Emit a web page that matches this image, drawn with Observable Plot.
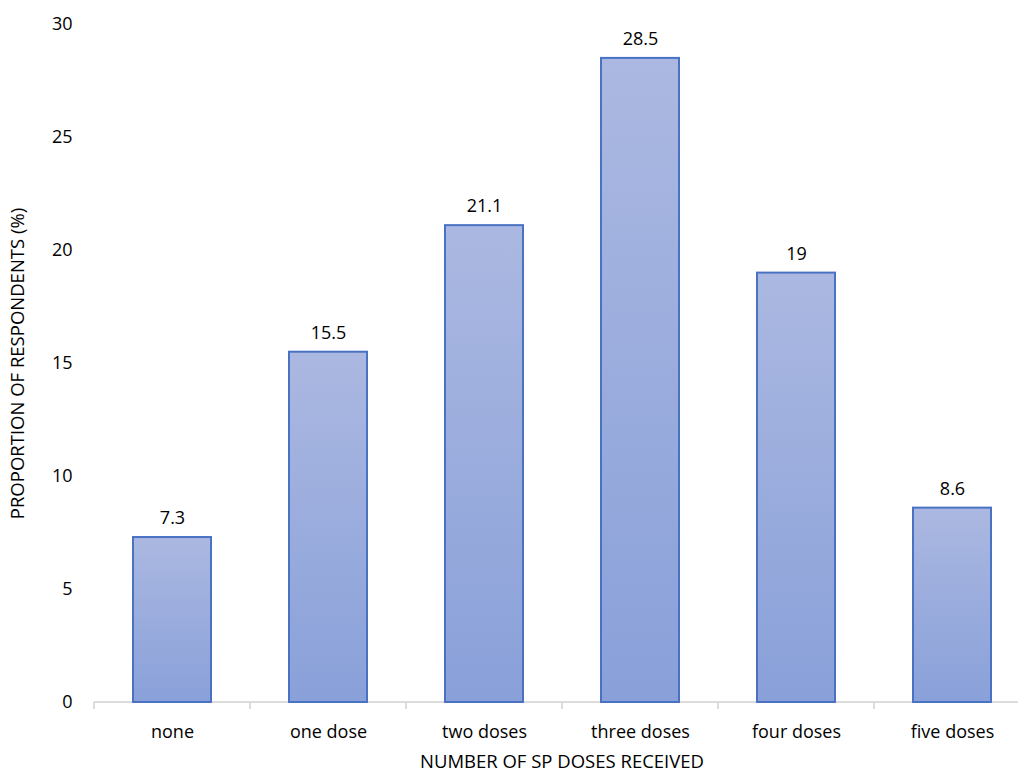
<!DOCTYPE html>
<html>
<head>
<meta charset="utf-8">
<script src="https://cdn.jsdelivr.net/npm/d3@7"></script>
<script src="https://cdn.jsdelivr.net/npm/@observablehq/plot@0.6"></script>
<style>
  html, body { margin: 0; padding: 0; background: #fff; overflow: hidden; }
  svg { font-family: "Open Sans", "Noto Sans", sans-serif; }
</style>
</head>
<body>
<div id="chart"></div>
<script>
const categories = ["none", "one dose", "two doses", "three doses", "four doses", "five doses"];
const values = [7.3, 15.5, 21.1, 28.5, 19, 8.6];
const valueLabels = ["7.3", "15.5", "21.1", "28.5", "19", "8.6"];
const yTicks = [0, 5, 10, 15, 20, 25, 30];

const data = categories.map((c, i) => ({cat: c, value: values[i], label: valueLabels[i]}));

const defs = () => {
  const svg = d3.create("svg:defs");
  const g = svg.append("linearGradient").attr("id", "barGrad").attr("x1", 0).attr("y1", 0).attr("x2", 0).attr("y2", 1);
  g.append("stop").attr("offset", "0%").attr("stop-color", "#abb8e1");
  g.append("stop").attr("offset", "100%").attr("stop-color", "#89a0d9");
  return svg.node();
};

const boundaryTicks = (index, scales, values, dims) => {
  const x = scales.x;
  const step = x.step();
  const bw = x.bandwidth();
  const off = (step - bw) / 2;
  const y0 = scales.y(0);
  const g = d3.create("svg:g").attr("stroke", "#d0d0d0").attr("stroke-width", 1.5);
  const xs = categories.map(c => x(c) - off);
  xs.push(x(categories[categories.length - 1]) + bw + off);
  for (const px of xs) {
    if (px <= dims.width) g.append("line").attr("x1", px).attr("x2", px).attr("y1", y0).attr("y2", y0 + 7);
  }
  g.append("line").attr("x1", xs[0]).attr("x2", Math.min(xs[xs.length - 1], dims.width - 1)).attr("y1", y0).attr("y2", y0);
  return g.node();
};

const chart = Plot.plot({
  width: 1019,
  height: 774,
  marginTop: 24,
  marginBottom: 72,
  marginLeft: 92,
  marginRight: -12,
  style: {fontSize: "19px", fontFamily: "'Open Sans', sans-serif", color: "#000", overflow: "hidden"},
  x: {domain: categories, paddingInner: 0.5, paddingOuter: 0.25, label: null},
  y: {domain: [0, 30], label: null},
  marks: [
    defs,
    boundaryTicks,
    Plot.barY(data, {x: "cat", y: "value", fill: "url(#barGrad)", stroke: "#4a72c2", strokeWidth: 2}),
    Plot.text(data, {x: "cat", y: "value", text: "label", dy: -19, fontSize: 18, fill: "#000"}),
    Plot.axisY(yTicks, {tickSize: 0, tickPadding: 20, fontSize: 18, fill: "#000", label: null}),
    Plot.axisX({tickSize: 0, tickPadding: 23, fontSize: 18, fill: "#000", label: null}),
    Plot.text(["PROPORTION OF RESPONDENTS (%)"], {frameAnchor: "left", textAnchor: "middle", dx: -74, rotate: -90, fontSize: 18.5, fill: "#000"}),
    Plot.text(["NUMBER OF SP DOSES RECEIVED"], {frameAnchor: "bottom", dy: 65, fontSize: 18.5, fill: "#000"})
  ]
});
document.getElementById("chart").appendChild(chart);
</script>
</body>
</html>
